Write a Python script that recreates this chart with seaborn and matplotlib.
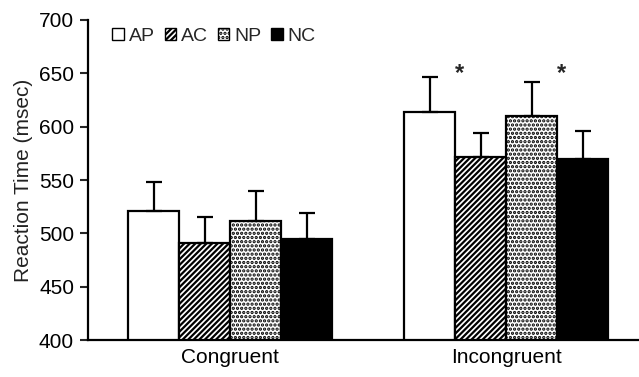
import matplotlib
matplotlib.use("Agg")
import matplotlib.pyplot as plt
import seaborn as sns
import pandas as pd
import numpy as np

conditions = ["Congruent", "Incongruent"]
groups = ["AP", "AC", "NP", "NC"]
ap_vals = [521, 614]
ac_vals = [491, 572]
np_vals = [512, 610]
nc_vals = [495, 570]
ap_err = [27, 33]
ac_err = [24, 22]
np_err = [28, 32]
nc_err = [24, 26]

sns.set_style("white")
plt.rcParams['font.family'] = ['Liberation Sans', 'DejaVu Sans']
plt.rcParams['hatch.linewidth'] = 1.6

rows = []
for g, vals in zip(groups, [ap_vals, ac_vals, np_vals, nc_vals]):
    for c, v in zip(conditions, vals):
        rows.append({"cond": c, "group": g, "rt": v})
df = pd.DataFrame(rows)
errs = {"AP": ap_err, "AC": ac_err, "NP": np_err, "NC": nc_err}

fig = plt.figure(figsize=(6.39, 3.77), dpi=100)
ax = fig.add_axes([0.1377, 0.098, 0.862, 0.849])

palette = {"AP": "white", "AC": "white", "NP": "white", "NC": "black"}
sns.barplot(data=df, x="cond", y="rt", hue="group", order=conditions, hue_order=groups,
            palette=palette, errorbar=None, width=0.74, edgecolor="black", linewidth=1.6,
            ax=ax, legend=False)

hatches = {"AP": "", "AC": "//////", "NP": "....", "NC": ""}
for container, g in zip(ax.containers, groups):
    for bar, e in zip(container.patches, errs[g]):
        bar.set_hatch(hatches[g])
        x = bar.get_x() + bar.get_width() / 2
        y = bar.get_height() + bar.get_y()
        ax.errorbar(x, y, yerr=[[0], [e]], fmt="none", ecolor="black", elinewidth=1.6,
                    capsize=6, capthick=1.6, zorder=1)

# significance stars over AC and NC bars in Incongruent
for container in [ax.containers[1], ax.containers[3]]:
    bar = container.patches[1]
    x = bar.get_x() + bar.get_width() * 0.08
    ax.text(x, 650, "*", ha="center", va="center", fontsize=17, fontweight="bold")

ax.set_ylim(400, 700)
ax.set_yticks(range(400, 701, 50))
ax.set_xlim(-0.515, 1.48)
ax.set_xlabel("")
ax.set_ylabel("Reaction Time (msec)", fontsize=15, color="#222222", labelpad=4)
ax.tick_params(axis="y", direction="out", length=6, width=1.5, labelsize=15, left=True, pad=4,
               labelcolor="black")
ax.tick_params(axis="x", length=0, labelsize=15, pad=6, labelcolor="black")
for s in ["top", "right"]:
    ax.spines[s].set_visible(False)
for s in ["left", "bottom"]:
    ax.spines[s].set_linewidth(1.6)
    ax.spines[s].set_color("black")

from matplotlib.patches import Patch
handles = [Patch(facecolor=palette[g], edgecolor="black", hatch=hatches[g], linewidth=1.0) for g in groups]
ax.legend(handles, groups, loc="upper left", ncol=4, frameon=False, fontsize=14,
          handlelength=0.6, handleheight=0.6, handletextpad=0.25, columnspacing=0.5,
          bbox_to_anchor=(0.03, 1.0), borderaxespad=0)

fig.savefig("out.png", dpi=100)
